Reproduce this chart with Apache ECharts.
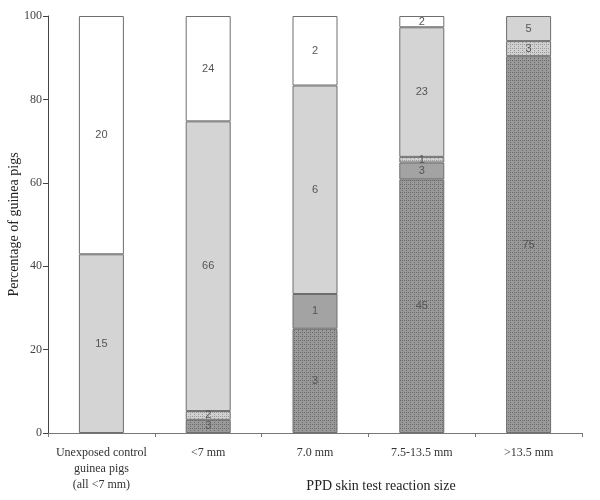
<!DOCTYPE html>
<html>
<head>
<meta charset="utf-8">
<script src="https://cdn.jsdelivr.net/npm/echarts@6/dist/echarts.min.js"></script>
<style>
  html, body { margin: 0; padding: 0; background: #fff; }
  #chart { width: 600px; height: 500px; }
</style>
</head>
<body>
<div id="chart"></div>
<script>
// categories (x axis)
var categories = ['Unexposed control\nguinea pigs\n(all <7 mm)', '<7 mm', '7.0 mm', '7.5-13.5 mm', '>13.5 mm'];
// counts per segment, bottom to top (null = no segment)
var darkDotted  = [null, 3, 3, 45, 75];
var midGray     = [null, null, 1, 3, null];
var lightDotted = [null, 2, null, 1, 3];
var lightGray   = [15, 66, 6, 23, 5];
var white       = [20, 24, 2, 2, null];
var yTicks = [0, 20, 40, 60, 80, 100];

var allSeries = [darkDotted, midGray, lightDotted, lightGray, white];
var totals = categories.map(function (c, i) {
  var s = 0;
  allSeries.forEach(function (arr) { if (arr[i]) s += arr[i]; });
  return s;
});

function makePattern(base, dot) {
  var c = document.createElement('canvas');
  c.width = 4; c.height = 4;
  var ctx = c.getContext('2d');
  ctx.fillStyle = base;
  ctx.fillRect(0, 0, 4, 4);
  ctx.fillStyle = dot;
  ctx.fillRect(0, 0, 1, 1);
  ctx.fillRect(2, 2, 1, 1);
  ctx.fillRect(2, 0, 1, 1);
  return { image: c, repeat: 'repeat' };
}

function seg(name, counts, color) {
  return {
    name: name,
    type: 'bar',
    stack: 'all',
    barWidth: 45,
    data: counts.map(function (v, i) {
      return v == null ? null : { value: v / totals[i] * 100, count: v };
    }),
    itemStyle: { color: color, borderColor: '#6e6e6e', borderWidth: 1 },
    label: {
      show: true,
      position: 'inside',
      color: '#555',
      fontFamily: 'Liberation Sans',
      fontSize: 11,
      formatter: function (p) { return p.data.count; }
    }
  };
}

var chart = echarts.init(document.getElementById('chart'));
chart.setOption({
  animation: false,
  grid: { left: 48, right: 18, top: 16, bottom: 67, outerBoundsMode: 'none' },
  xAxis: {
    type: 'category',
    data: categories,
    name: 'PPD skin test reaction size',
    nameLocation: 'middle',
    nameGap: 46,
    nameMoveOverlap: false,
    nameTextStyle: { fontFamily: 'Liberation Serif', fontSize: 14, color: '#222', padding: [0, 0, 0, 132] },
    axisLine: { lineStyle: { color: '#777' } },
    axisTick: { show: true, length: 4, lineStyle: { color: '#777' } },
    axisLabel: { interval: 0, fontFamily: 'Liberation Serif', fontSize: 12, color: '#333', lineHeight: 16, margin: 12 }
  },
  yAxis: {
    type: 'value',
    min: 0,
    max: 100,
    interval: 20,
    name: 'Percentage of guinea pigs',
    nameLocation: 'middle',
    nameGap: 27,
    nameMoveOverlap: false,
    nameTextStyle: { fontFamily: 'Liberation Serif', fontSize: 14, color: '#222' },
    axisLine: { show: true, lineStyle: { color: '#444' } },
    axisTick: { show: true, length: 5, lineStyle: { color: '#444' } },
    splitLine: { show: false },
    axisLabel: {
      fontFamily: 'Liberation Serif', fontSize: 12, color: '#444', margin: 6,
      formatter: function (v) { return yTicks.indexOf(v) >= 0 ? v : ''; }
    }
  },
  series: [
    seg('dark dotted', darkDotted, makePattern('#9a9a9a', '#6a6a6a')),
    seg('medium gray', midGray, '#a3a3a3'),
    seg('light dotted', lightDotted, makePattern('#d0d0d0', '#9a9a9a')),
    seg('light gray', lightGray, '#d4d4d4'),
    seg('white', white, '#ffffff')
  ]
});
</script>
</body>
</html>
